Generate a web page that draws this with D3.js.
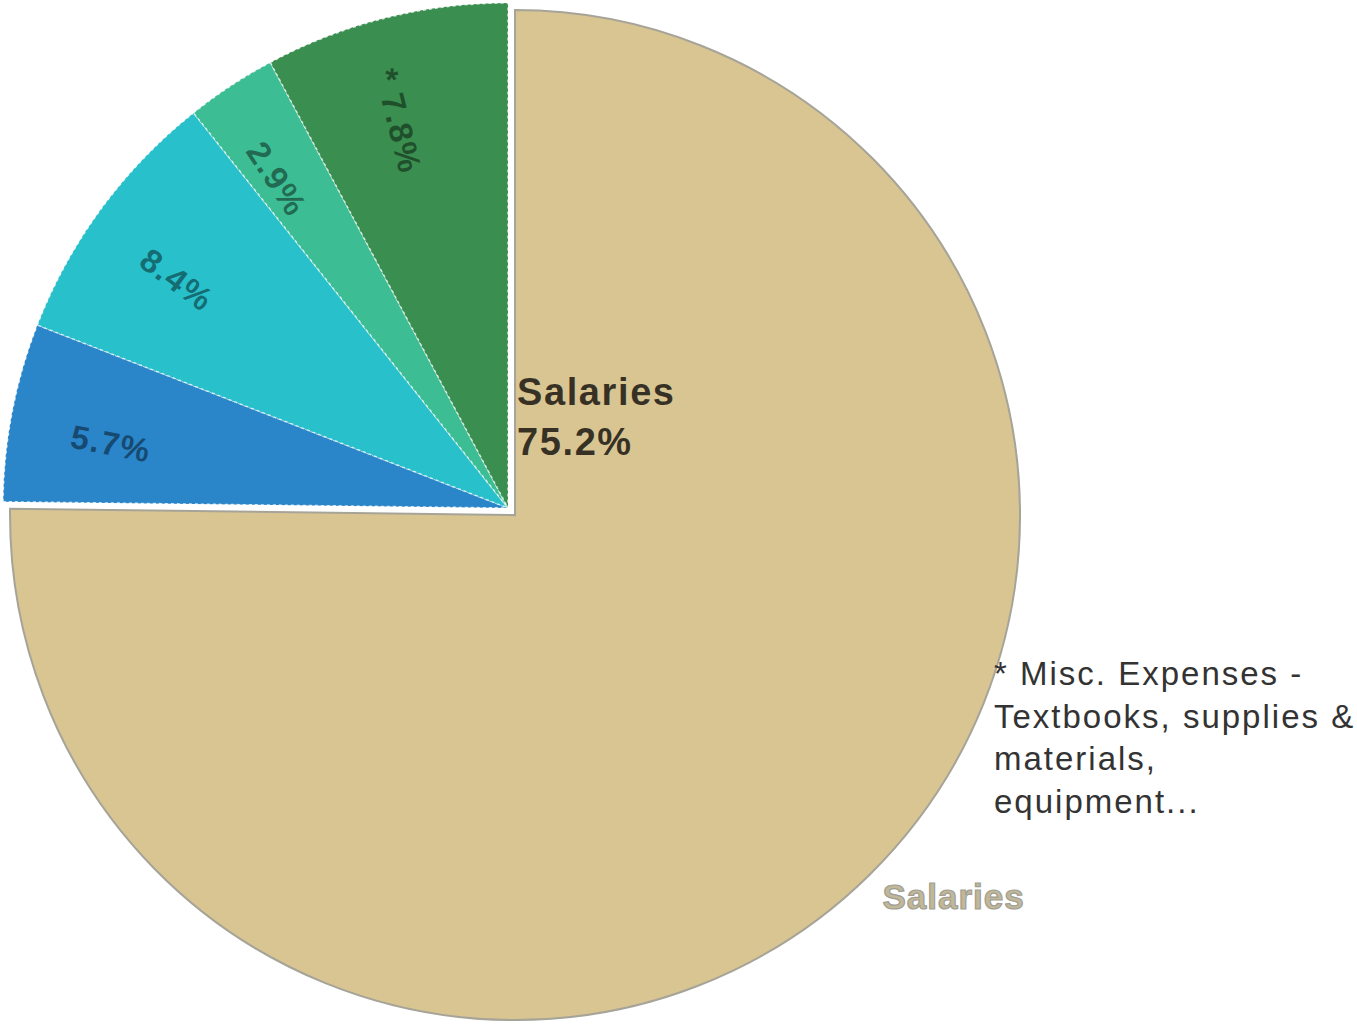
<!DOCTYPE html>
<html>
<head>
<meta charset="utf-8">
<script src="https://cdn.jsdelivr.net/npm/d3@7"></script>
<style>
  html, body { margin: 0; padding: 0; background: #fff; }
  svg { display: block; }
</style>
</head>
<body>
<svg id="chart" width="1357" height="1024"></svg>
<script>
// Budget breakdown, percentages of total spending
const categories = ["Salaries", "Other A", "Other B", "Other C", "Misc. Expenses"];
const values = [75.2, 5.7, 8.4, 2.9, 7.8];
const sliceLabels = ["75.2%", "5.7%", "8.4%", "2.9%", "* 7.8%"];
const colors = ["#d9c592", "#2a85c9", "#27c0cb", "#3dbd93", "#3a8e4f"];
const noteLines = ["* Misc. Expenses -", "Textbooks, supplies &", "materials,", "equipment..."];

const svg = d3.select("#chart");
const cx = 508, cy = 508, radius = 505;
const explode = 10; // the largest slice is pulled out from the centre
const font = "'Liberation Sans', Arial, sans-serif";

const pie = d3.pie().sort(null).value(d => d.value);
const arcs = pie(categories.map((c, i) => ({ name: c, value: values[i], label: sliceLabels[i], color: colors[i] })));
const arc = d3.arc().innerRadius(0).outerRadius(radius);

const mid = d => (d.startAngle + d.endAngle) / 2;
const offset = d => d.index === 0 ? explode : 0;
const dirX = a => Math.sin(a), dirY = a => -Math.cos(a);

const g = svg.append("g").attr("transform", `translate(${cx},${cy})`);

const slices = g.selectAll("g.slice")
  .data(arcs)
  .join("g")
  .attr("class", "slice")
  .attr("transform", d => `translate(${dirX(mid(d)) * offset(d)},${dirY(mid(d)) * offset(d)})`);

slices.append("path")
  .attr("d", arc)
  .attr("fill", d => d.data.color)
  .attr("stroke", d => d.index === 0 ? "#a6a398" : "rgba(255,255,255,0.75)")
  .attr("stroke-width", d => d.index === 0 ? 2 : 1.5)
  .attr("stroke-dasharray", d => d.index === 0 ? null : "3,3");

// Radial percentage labels inside the small slices
const labelR = 402;
slices.filter(d => d.index > 0)
  .append("text")
  .attr("transform", d => {
    const a = mid(d);
    const deg = a * 180 / Math.PI - 270;
    return `translate(${dirX(a) * labelR},${dirY(a) * labelR}) rotate(${deg})`;
  })
  .attr("y", 24)
  .attr("text-anchor", "middle")
  .attr("font-family", font)
  .attr("font-weight", "bold")
  .attr("font-size", 33)
  .attr("letter-spacing", 1.5)
  .attr("fill", "#000")
  .attr("fill-opacity", 0.45)
  .text(d => d.data.label);

// Label for the largest slice, beside the centre
const main = arcs[0];
const mx = dirX(mid(main)) * explode, my = dirY(mid(main)) * explode;
const mainLabel = g.append("text")
  .attr("font-family", font)
  .attr("font-weight", "bold")
  .attr("font-size", 38)
  .attr("letter-spacing", 1.6)
  .attr("fill", "#000")
  .attr("fill-opacity", 0.75);
mainLabel.append("tspan").attr("x", mx + 2).attr("y", my - 110).text(main.data.name);
mainLabel.append("tspan").attr("x", mx + 2).attr("y", my - 60).text(main.data.label);

// Outer category label for the largest slice
const outR = radius + 18;
g.append("text")
  .attr("x", mx + dirX(mid(main)) * outR)
  .attr("y", my + dirY(mid(main)) * outR + 22)
  .attr("font-family", font)
  .attr("font-weight", "bold")
  .attr("font-size", 35)
  .attr("letter-spacing", 1)
  .attr("fill", "#c2b897")
  .attr("stroke", "#9e9e96")
  .attr("stroke-width", 1.2)
  .text(main.data.name);

// Footnote for the starred slice
const note = svg.append("text")
  .attr("font-family", font)
  .attr("font-size", 33)
  .attr("letter-spacing", 2)
  .attr("fill", "#333");
noteLines.forEach((line, i) => {
  note.append("tspan").attr("x", 994).attr("y", 685 + i * 42.5).text(line);
});
</script>
</body>
</html>
